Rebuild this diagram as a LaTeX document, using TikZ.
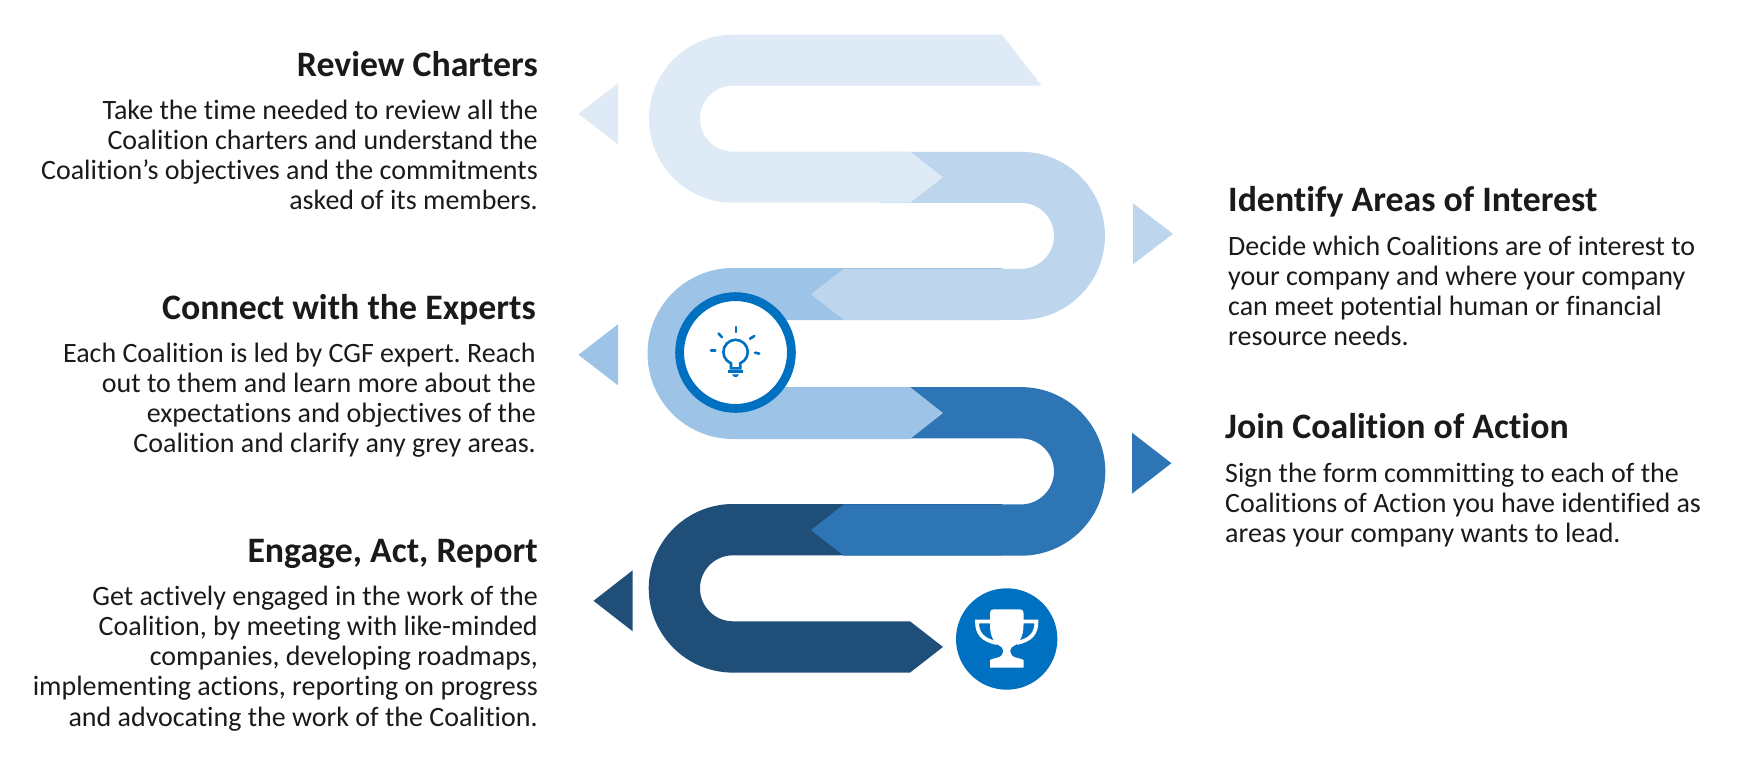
\documentclass[tikz,border=0pt]{standalone}
\usepackage{fontspec}
\setmainfont{Carlito}[Ligatures=NoCommon]
\frenchspacing
\definecolor{paleone}{HTML}{DEEAF6}
\definecolor{paletwo}{HTML}{BDD6EE}
\definecolor{midthree}{HTML}{9DC3E6}
\definecolor{midfour}{HTML}{2E75B6}
\definecolor{darkfive}{HTML}{1F4E79}
\definecolor{iconblue}{HTML}{0070C0}
\definecolor{inktext}{HTML}{1A1A1A}
\tikzset{
  headtext/.style={inner sep=0pt,text=inktext,font=\fontsize{35.8}{40}\selectfont\bfseries},
  bodytext/.style={inner sep=0pt,text=inktext,font=\fontsize{28}{30.1}\selectfont},
  bulbline/.style={iconblue,line width=2.6pt,line cap=round},
  cupline/.style={white,line width=3.8pt},
}
% colour, centre height, outer and inner radius, x of the two free ends
\newcommand{\bendleft}[6]{
  \fill[#1] (#5,#2+#3) -- (733,#2+#3) arc[start angle=90,end angle=270,radius=#3]
    -- (910,#2-#3) -- (943,#2-#3/2-#4/2) -- (910,#2-#4)
    -- (733,#2-#4) arc[start angle=270,end angle=90,radius=#4] -- (#6,#2+#4) -- cycle;
}
\newcommand{\bendright}[4]{
  \fill[#1] (880,#2+#3) -- (1021,#2+#3) arc[start angle=90,end angle=-90,radius=#3]
    -- (843.7,#2-#3) -- (811,#2-#3/2-#4/2) -- (843.7,#2-#4)
    -- (1021,#2-#4) arc[start angle=-90,end angle=90,radius=#4] -- (880,#2+#4) -- cycle;
}
\begin{document}
\begin{tikzpicture}[x=1pt,y=1pt]
  \useasboundingbox (0,0) rectangle (1746,-756);
  % the winding band, last part first
  \bendleft{darkfive}{-588.3}{84.3}{33}{1002}{1002}
  \bendright{midfour}{-471.4}{84.3}{33}
  \bendleft{midthree}{-353.5}{85.5}{33.5}{1002}{1002}
  \bendright{paletwo}{-235.8}{84}{33}
  \bendleft{paleone}{-118.7}{84}{33}{1002}{1041.6}
  % small pointers
  \foreach \shade/\bx/\tx/\ty in {paleone/618/578.4/-113.8,paletwo/1133/1173/-233.8,
      midthree/618/578.4/-354.8,midfour/1132/1171.4/-463.2,darkfive/632.7/593.5/-600.8}
    \fill[\shade] (\bx,\ty+30.5) -- (\tx,\ty) -- (\bx,\ty-30.5) -- cycle;
  % lamp
  \node[circle,draw=iconblue,fill=white,line width=8.8pt,minimum size=111.8pt,inner sep=0pt] (lampring) at (735.5,-352.5) {};
  \draw[iconblue,line width=2.6pt] (731,-368.3) -- (731,-363.3) arc[start angle=248,end angle=-68,radius=12.2]
    -- (740.3,-368.3) -- cycle;
  \fill[iconblue] (728.3,-370) rectangle (742.7,-372.9);
  \fill[iconblue] (732,-374.4) -- (739,-374.4) -- (737,-376.8) -- (734,-376.8) -- cycle;
  \foreach \ax/\ay/\bx/\by in {736/-327/736/-332,718.5/-333.5/722/-337.2,750/-338.7/754.3/-336,
      711/-350.3/715.3/-350.3,755/-352.7/759.3/-353.6}
    \draw[bulbline] (\ax,\ay) -- (\bx,\by);
  % cup
  \node[circle,fill=iconblue,minimum size=101.4pt,inner sep=0pt] (cupdisc) at (1006.7,-639) {};
  \fill[white] (993.5,-609.3) -- (1020,-609.3) .. controls (1022.5,-609.3) and (1023.5,-611) .. (1023.5,-613)
    -- (1023.5,-625) .. controls (1023.5,-636) and (1020,-643) .. (1012,-647)
    .. controls (1009.5,-650) and (1010,-653) .. (1012.5,-656) .. controls (1015,-658) and (1020,-658) .. (1023.5,-660)
    -- (1023.5,-667.7) -- (990,-667.7) -- (990,-660)
    .. controls (993.5,-658) and (998.5,-658) .. (1001,-656) .. controls (1003.5,-653) and (1004,-650) .. (1001.5,-647)
    .. controls (993.5,-643) and (990,-636) .. (990,-625) -- (990,-613)
    .. controls (990,-611) and (991,-609.3) .. (993.5,-609.3) -- cycle;
  \draw[cupline] (992,-621.5) -- (977,-621.5) .. controls (977,-633) and (982,-640) .. (997,-643);
  \draw[cupline] (1021.4,-621.5) -- (1036.4,-621.5) .. controls (1036.4,-633) and (1031.4,-640) .. (1016.4,-643);
  % left column
  \node[headtext,anchor=base east] (reviewhead) at (538,-76) {Review Charters};
  \node[bodytext,align=right,anchor=north east] (reviewbody) at (538,-100) {Take the time needed to review all the\\
    Coalition charters and understand the\\Coalition’s objectives and the commitments\\asked of its members.};
  \node[headtext,anchor=base east] (experthead) at (536,-319) {Connect with the Experts};
  \node[bodytext,align=right,anchor=north east] (expertbody) at (536,-343) {Each Coalition is led by CGF expert. Reach\\
    out to them and learn more about the\\expectations and objectives of the\\Coalition and clarify any grey areas.};
  \node[headtext,anchor=base east] (engagehead) at (538,-562) {Engage, Act, Report};
  \node[bodytext,align=right,anchor=north east] (engagebody) at (538,-586) {Get actively engaged in the work of the\\
    Coalition, by meeting with like-minded\\companies, developing roadmaps,\\implementing actions, reporting on progress\\
    and advocating the work of the Coalition.};
  % right column
  \node[headtext,anchor=base west] (areashead) at (1228,-211) {Identify Areas of Interest};
  \node[bodytext,align=left,anchor=north west] (areasbody) at (1228,-236) {Decide which Coalitions are of interest to\\
    your company and where your company\\can meet potential human or financial\\resource needs.};
  \node[headtext,anchor=base west] (joinhead) at (1225,-438) {Join Coalition of Action};
  \node[bodytext,align=left,anchor=north west] (joinbody) at (1225,-463) {Sign the form committing to each of the\\
    Coalitions of Action you have identified as\\areas your company wants to lead.};
\end{tikzpicture}
\end{document}
